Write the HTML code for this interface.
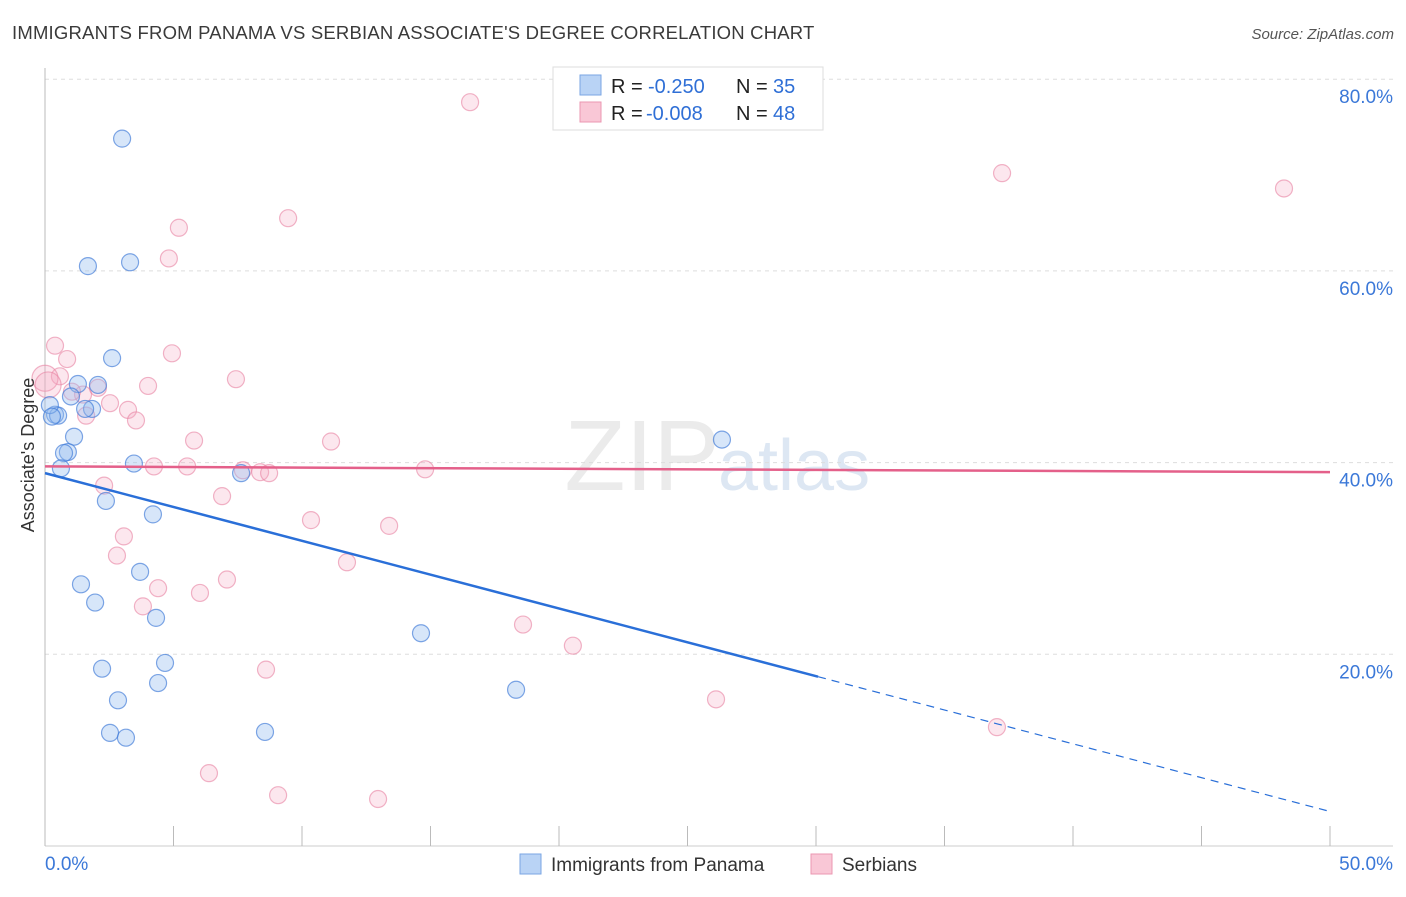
<!DOCTYPE html>
<html><head><meta charset="utf-8"><style>
body{margin:0;background:#fff;font-family:"Liberation Sans",sans-serif}
svg text{font-family:"Liberation Sans",sans-serif}
</style></head><body>
<svg id="c" width="1406" height="892" xmlns="http://www.w3.org/2000/svg">
<text x="12" y="39" font-size="18.5" letter-spacing="0.2" fill="#3a3a3a">IMMIGRANTS FROM PANAMA VS SERBIAN ASSOCIATE'S DEGREE CORRELATION CHART</text>
<text x="1394" y="39" font-size="15" fill="#555" text-anchor="end" font-style="italic">Source: ZipAtlas.com</text>
<text x="720" y="490" font-size="100" fill="#ebebeb" text-anchor="end" font-family="Liberation Serif">ZIP</text>
<text x="718" y="490" font-size="72" fill="#dde7f3">atlas</text>
<g id="grid"></g>
<g id="axes"></g>
<g id="pts"></g>
<g id="lines"></g>
<text transform="translate(34,455) rotate(-90)" font-size="18" fill="#333" text-anchor="middle">Associate's Degree</text>
<g>
<rect x="553" y="67" width="270" height="63" fill="#fff" stroke="#ddd"/>
<rect x="580" y="75" width="21" height="20" fill="#b9d3f5" stroke="#7aa6e3"/>
<rect x="580" y="102" width="21" height="20" fill="#f9c7d6" stroke="#eb97b1"/>
<text x="611" y="93" font-size="20" fill="#222">R =</text>
<text x="648" y="93" font-size="20" fill="#2f6fd6">-0.250</text>
<text x="736" y="93" font-size="20" fill="#222">N =</text>
<text x="773" y="93" font-size="20" fill="#2f6fd6">35</text>
<text x="611" y="120" font-size="20" fill="#222">R =</text>
<text x="646" y="120" font-size="20" fill="#2f6fd6">-0.008</text>
<text x="736" y="120" font-size="20" fill="#222">N =</text>
<text x="773" y="120" font-size="20" fill="#2f6fd6">48</text>
</g>
<g>
<rect x="520" y="854" width="21" height="20" fill="#b9d3f5" stroke="#7aa6e3"/>
<text x="551" y="871" font-size="19" fill="#333">Immigrants from Panama</text>
<rect x="811" y="854" width="21" height="20" fill="#f9c7d6" stroke="#eb97b1"/>
<text x="842" y="871" font-size="19" fill="#333">Serbians</text>
</g>
</svg>
<script>
const blueX=[3.00,1.67,3.31,2.61,1.28,2.06,1.01,1.83,1.56,0.39,0.51,0.19,1.13,0.89,0.74,0.62,3.46,7.63,2.37,4.20,1.40,3.70,1.95,4.32,4.67,2.22,4.40,2.84,2.53,3.15,8.56,14.63,18.33,26.34,0.27];
const blueY=[73.8,60.5,60.9,50.9,48.2,48.1,46.9,45.6,45.6,45.0,44.9,46.0,42.7,41.1,41.0,39.4,39.9,38.9,36.0,34.6,27.3,28.6,25.4,23.8,19.1,18.5,17.0,15.2,11.8,11.3,11.9,22.2,16.3,42.4,44.8];
const pinkX=[16.54,37.24,48.21,9.46,5.21,4.82,0.39,0.86,4.94,0.58,7.43,4.01,2.06,1.48,1.05,2.53,3.23,1.60,3.54,5.80,11.13,4.24,5.53,7.70,8.37,8.72,14.79,2.30,6.89,10.35,13.39,3.07,2.80,11.75,4.40,7.08,6.03,3.81,18.60,20.54,8.60,26.11,37.04,6.38,9.07,12.96,0,0.12];
const pinkY=[77.6,70.2,68.6,65.5,64.5,61.3,52.2,50.8,51.4,49.0,48.7,48.0,47.8,47.1,47.4,46.2,45.5,44.9,44.4,42.3,42.2,39.6,39.6,39.2,39.0,38.9,39.3,37.6,36.5,34.0,33.4,32.3,30.3,29.6,26.9,27.8,26.4,25.0,23.1,20.9,18.4,15.3,12.4,7.6,5.3,4.9,48.8,48.1];
const yTicks=[20,40,60,80];
const xTicks=[0,5,10,15,20,25,30,35,40,45,50];
const blueTrend=[38.9,3.6];
const blueSolidEnd=30.08;
const pinkTrend=[39.6,39.0];
const NS="http://www.w3.org/2000/svg";
const sx=v=>45+v/50*1285;
const sy=v=>846-v/20*191.7;
function mk(tag,attrs,parent){const e=document.createElementNS(NS,tag);for(const k in attrs)e.setAttribute(k,attrs[k]);parent.appendChild(e);return e;}
const grid=document.getElementById('grid'),axes=document.getElementById('axes'),pts=document.getElementById('pts'),lines=document.getElementById('lines');
yTicks.forEach(t=>{
 const l=mk('line',{x1:45,x2:1393,y1:sy(t),y2:sy(t),stroke:'#ddd','stroke-dasharray':'4,4'},grid);
 
 
 const tx=mk('text',{x:1393,y:sy(t)+24,'font-size':19,fill:'#3b78d8','text-anchor':'end'},axes);
 tx.textContent=t.toFixed(1)+'%';
 
 
});
const la=mk('line',{x1:45,x2:45,y1:68,y2:846,stroke:'#bbb'},axes);


const lb=mk('line',{x1:45,x2:1393,y1:846,y2:846,stroke:'#ccc'},axes);


xTicks.forEach(t=>{
 const l=mk('line',{x1:sx(t),x2:sx(t),y1:826,y2:846,stroke:'#bbb'},axes);
 
 
});
[[0,'start'],[50,'end']].forEach(([t,a])=>{
 const tx=mk('text',{x:t===0?45:1393,y:870,'font-size':19,fill:'#3b78d8','text-anchor':a},axes);
 tx.textContent=t.toFixed(1)+'%';
 
 
});
pinkX.forEach((x,i)=>{
 const c=mk('circle',{cx:sx(x),cy:sy(pinkY[i]),r:(i>=46?13:8.5),fill:'rgba(246,170,195,0.28)',stroke:'rgba(232,130,162,0.6)','stroke-width':1.2},pts);
 
 
});
blueX.forEach((x,i)=>{
 const c=mk('circle',{cx:sx(x),cy:sy(blueY[i]),r:8.5,fill:'rgba(150,190,238,0.38)',stroke:'rgba(60,120,215,0.65)','stroke-width':1.2},pts);
 
 
});
const by=x=>blueTrend[0]+(blueTrend[1]-blueTrend[0])*x/50;
const b1=mk('line',{x1:sx(0),y1:sy(by(0)),x2:sx(blueSolidEnd),y2:sy(by(blueSolidEnd)),stroke:'#2a6fd8','stroke-width':2.5},lines);


const b2=mk('line',{x1:sx(blueSolidEnd),y1:sy(by(blueSolidEnd)),x2:sx(50),y2:sy(by(50)),stroke:'#2a6fd8','stroke-width':1.2,'stroke-dasharray':'8,6'},lines);


const p1=mk('line',{x1:sx(0),y1:sy(pinkTrend[0]),x2:sx(50),y2:sy(pinkTrend[1]),stroke:'#e4608a','stroke-width':2.5},lines);


</script>
</body></html>
